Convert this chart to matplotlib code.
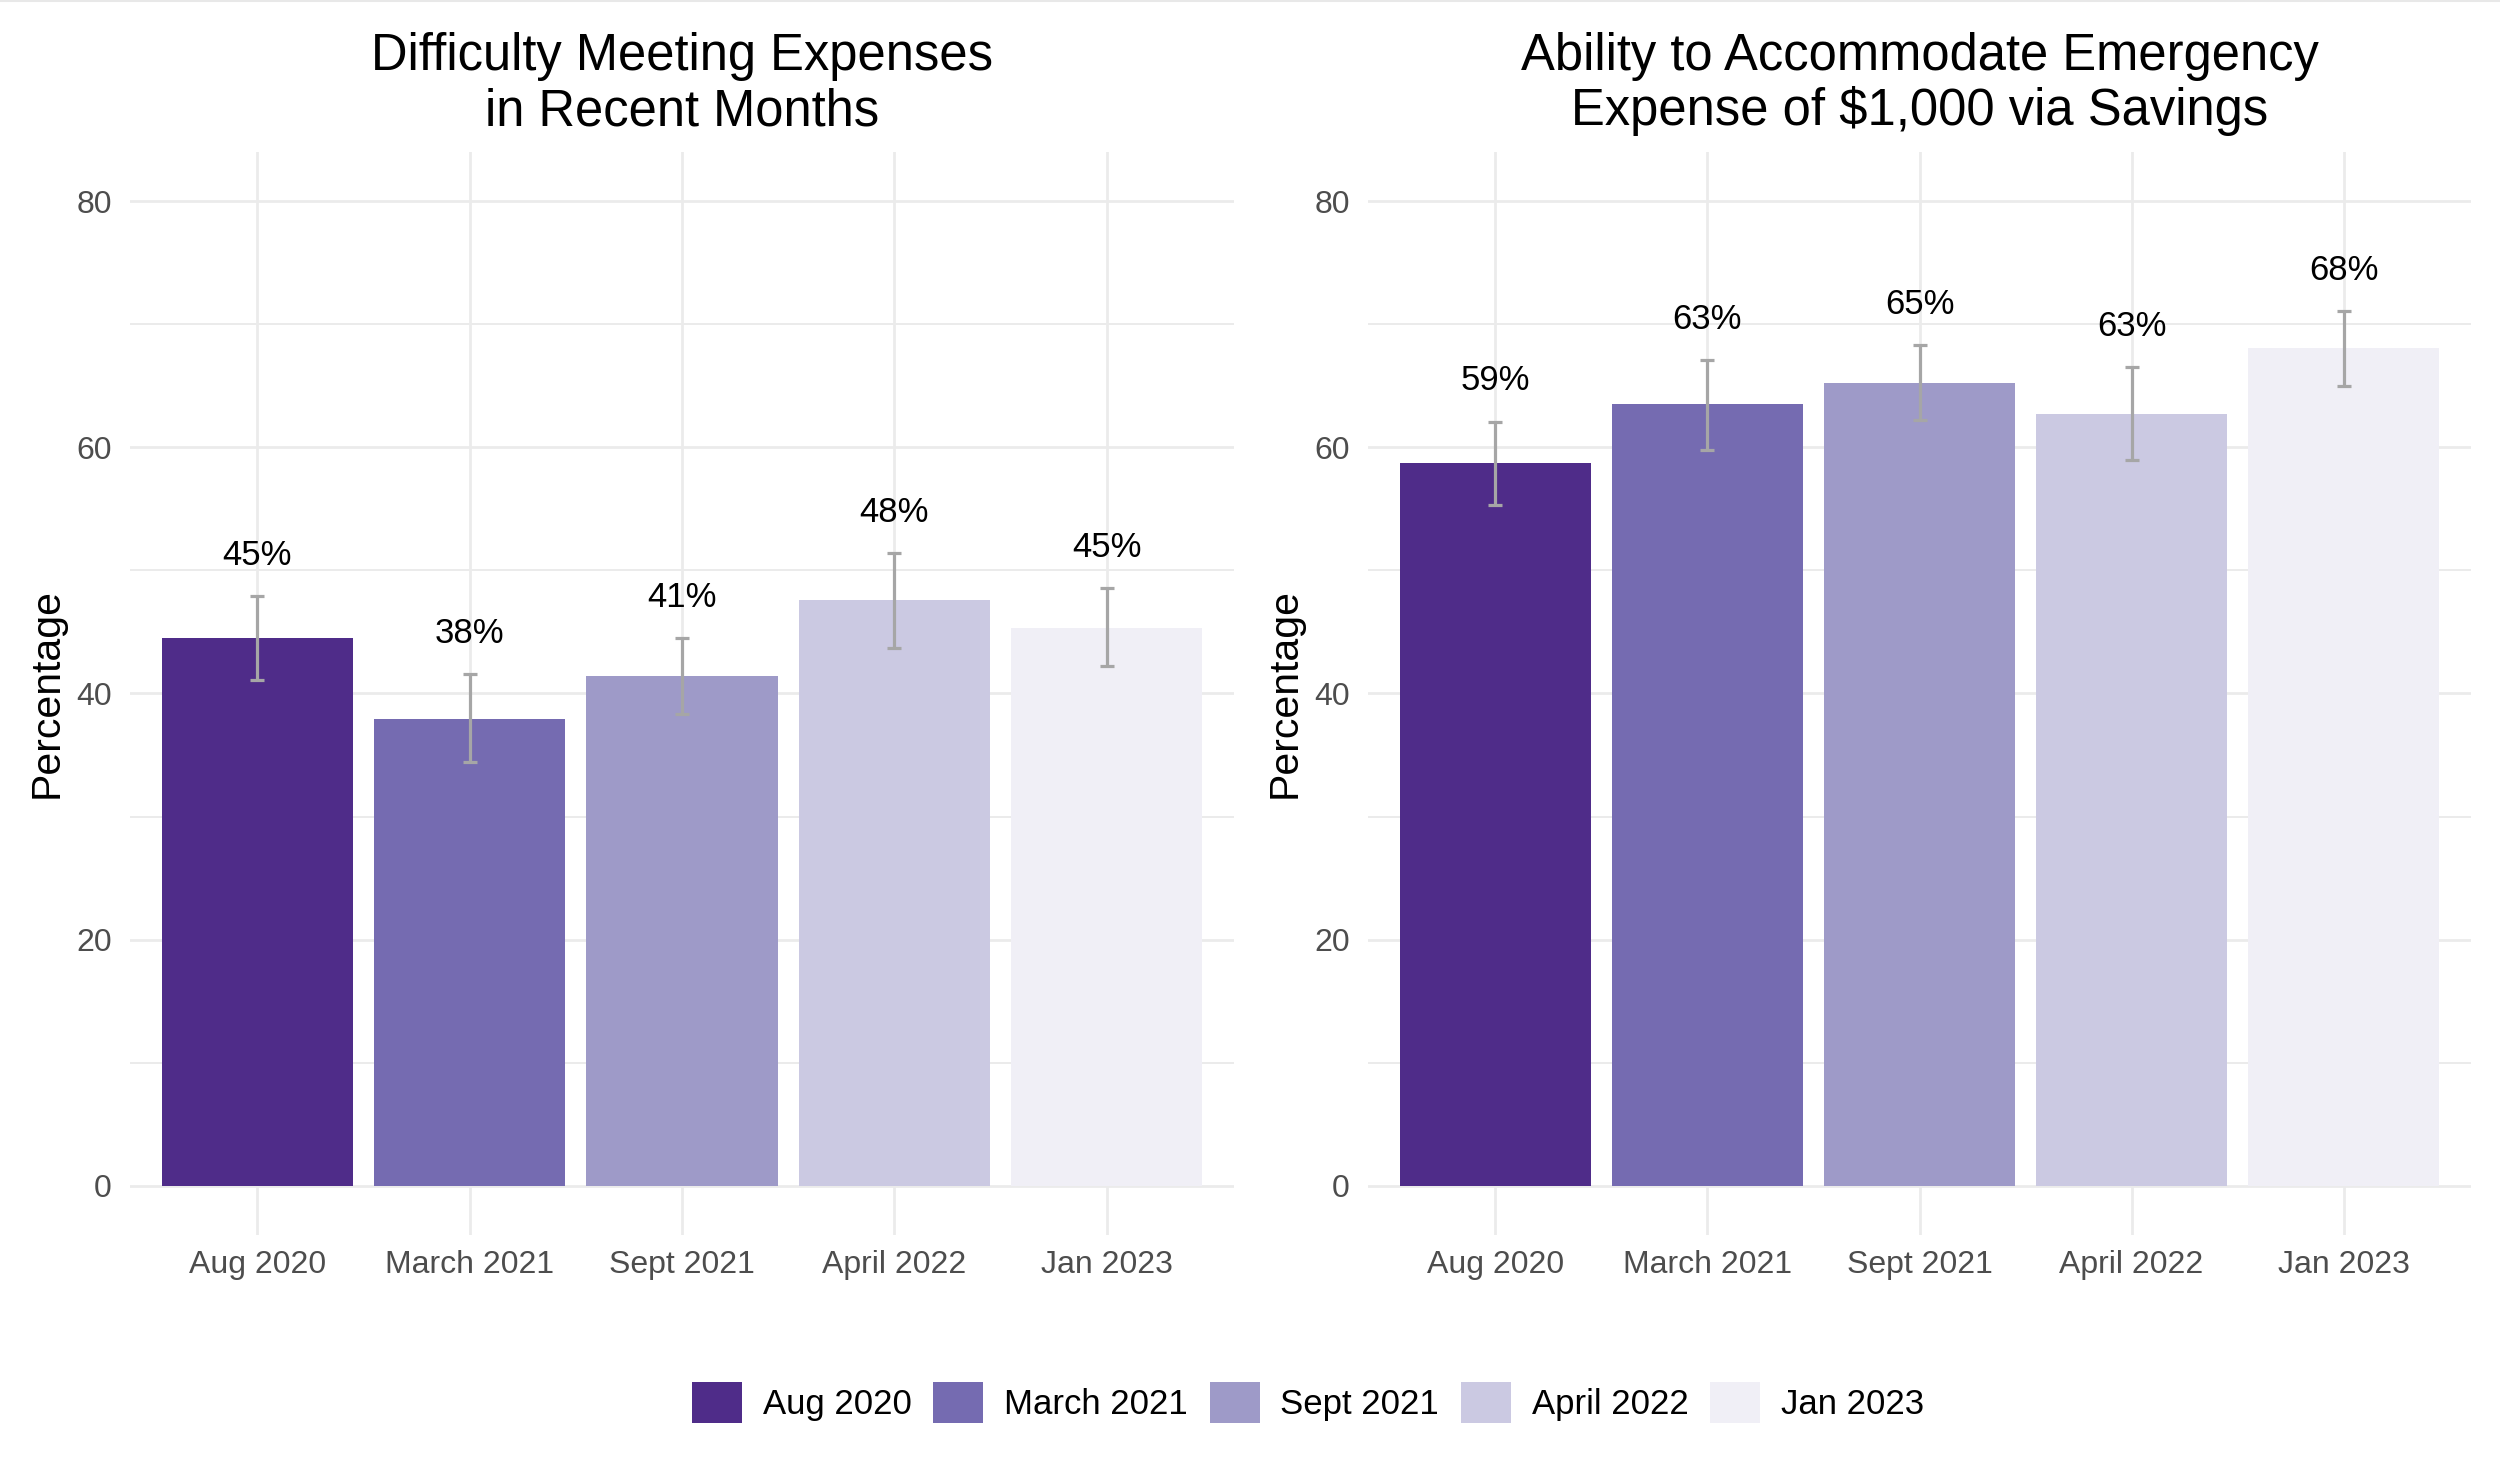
import numpy as np
import matplotlib.pyplot as plt
from matplotlib.patches import Patch
from matplotlib.lines import Line2D

plt.rcParams['font.family'] = ['Liberation Sans', 'DejaVu Sans']

waves = ["Aug 2020", "March 2021", "Sept 2021", "April 2022", "Jan 2023"]
colors = ["#4f2c89", "#756bb1", "#9e9ac8", "#cbc9e2", "#f0eff6"]

# difficulty meeting expenses
difficulty = [44.5, 37.9, 41.4, 47.6, 45.3]
difficulty_lo = [41.1, 34.4, 38.3, 43.7, 42.2]
difficulty_hi = [47.9, 41.6, 44.5, 51.4, 48.6]
difficulty_lab = ["45%", "38%", "41%", "48%", "45%"]

# emergency expense via savings
savings = [58.7, 63.5, 65.2, 62.7, 68.1]
savings_lo = [55.3, 59.8, 62.2, 59.0, 65.0]
savings_hi = [62.1, 67.1, 68.3, 66.5, 71.1]
savings_lab = ["59%", "63%", "65%", "63%", "68%"]

titles = [["Difficulty Meeting Expenses", "in Recent Months"],
          ["Ability to Accommodate Emergency", "Expense of $1,000 via Savings"]]

fig = plt.figure(figsize=(25, 14.76), dpi=100)
ax1 = fig.add_axes([0.052, 0.1633, 0.4416, 0.7337])
ax2 = fig.add_axes([0.5472, 0.1633, 0.4412, 0.7337])

grid_col = "#ebebeb"
x = np.arange(1, len(waves) + 1)

panels = [(ax1, difficulty, difficulty_lo, difficulty_hi, difficulty_lab),
          (ax2, savings, savings_lo, savings_hi, savings_lab)]

for i, (ax, vals, lo, hi, labs) in enumerate(panels):
    vals = np.array(vals)
    lo = np.array(lo)
    hi = np.array(hi)
    ax.bar(x, vals, width=0.9, color=colors, zorder=2)
    ax.errorbar(x, vals, yerr=[vals - lo, hi - vals], fmt='none',
                ecolor="#a6a6a6", elinewidth=2.3, capsize=5, capthick=2.3,
                zorder=3)
    for xi, h, t in zip(x, hi, labs):
        ax.text(xi, h + 3.3, t, ha='center', va='center', fontsize=25,
                color='black', zorder=4)

    ax.set_xlim(0.4, 5.6)
    ax.set_ylim(-4, 84)
    ax.set_xticks(x)
    ax.set_xticklabels(waves)
    ax.set_yticks([0, 20, 40, 60, 80])
    ax.set_yticks([10, 30, 50, 70], minor=True)
    ax.grid(True, which='major', color=grid_col, lw=2.0, zorder=0)
    ax.grid(True, which='minor', axis='y', color=grid_col, lw=1.4, zorder=0)
    ax.tick_params(which='both', length=0)
    ax.tick_params(axis='y', labelsize=23, labelcolor='#4d4d4d', pad=13)
    ax.tick_params(axis='x', labelsize=23, labelcolor='#4d4d4d', pad=11)
    for s in ax.spines.values():
        s.set_visible(False)
    ax.set_ylabel("Percentage", fontsize=29.5, color='black')

    pos = ax.get_position()
    cx = (pos.x0 + pos.x1) / 2
    fig.text(cx, 1 - 70 / 1476, titles[i][0], ha='center', va='baseline',
             fontsize=36.5)
    fig.text(cx, 1 - 125 / 1476, titles[i][1], ha='center', va='baseline',
             fontsize=36.5)

ax1.yaxis.set_label_coords(-0.058, 0.5)
ax2.yaxis.set_label_coords(-0.058, 0.5)

handles = [Patch(facecolor=c, edgecolor='none') for c in colors]
fig.legend(handles, waves, loc='center', bbox_to_anchor=(0.5232, 0.0501),
           ncol=5, frameon=False, fontsize=25, handlelength=1.44,
           handleheight=1.44, handletextpad=0.6, columnspacing=0.62)

fig.add_artist(Line2D([0, 1], [0.9993, 0.9993], color="#e8e8e8", lw=1.5))

fig.savefig("out.png", dpi=100)
